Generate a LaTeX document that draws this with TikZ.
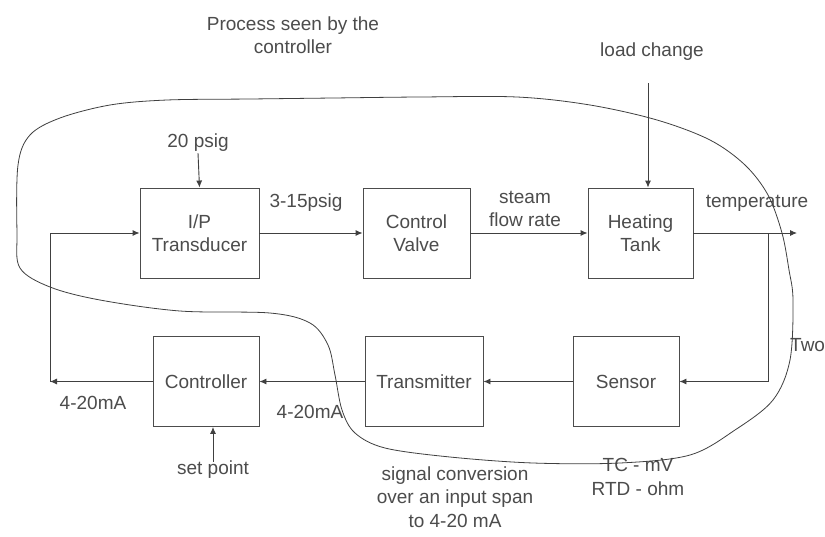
\documentclass[tikz,border=0pt]{standalone}
\usepackage{fontspec}
\setmainfont{Liberation Sans}
\usetikzlibrary{arrows.meta}

\begin{document}
\begin{tikzpicture}[x=1pt, y=-1pt,
        font=\fontsize{19}{23.5}\selectfont,
        blk/.style={draw=black!70, line width=0.9pt, align=center, text=black!70,
          minimum height=90pt, inner sep=2pt},
        lbl/.style={align=center, text=black!70, inner sep=1pt},
        sig/.style={draw=black!75, line width=0.9pt, -{Latex[length=7pt,width=6pt]}},
        wire/.style={draw=black!75, line width=0.9pt}]
      \useasboundingbox (0,0) rectangle (825,536);
      \clip (0,0) rectangle (825,536);
      \fill[white] (0,0) rectangle (825,536);
      % forward path
      \node[blk, minimum width=119pt] (ip)    at (199.5,233) {I/P\\Transducer};
      \node[blk, minimum width=107pt] (valve) at (416.5,233) {Control\\Valve};
      \node[blk, minimum width=105pt] (tank)  at (640.5,233) {Heating\\Tank};
      % feedback path
      \node[blk, minimum width=106pt] (ctrl)  at (206,381.5) {Controller};
      \node[blk, minimum width=118pt] (trans) at (424,381.5) {Transmitter};
      \node[blk, minimum width=106pt] (sens)  at (626,381.5) {Sensor};
      % free ends
      \coordinate (out)  at (797,233);
      \coordinate (tap)  at (768,233);
      \coordinate (fbl)  at (50,381.5);
      \coordinate (load) at (648,83);
      % labels
      \node[lbl] (title) at (293,35)  {Process seen by the\\controller};
      \node[lbl] (air)   at (198,143) {20 psig};
      \node[lbl] (ldc)   at (652,52)  {load change};
      \node[lbl] (psig)  at (306,203) {3-15psig};
      \node[lbl] (steam) at (525,209) {steam\\flow rate};
      \node[lbl] (temp)  at (757,203) {temperature};
      \node[lbl] (maL)   at (93,403)  {4-20mA};
      \node[lbl] (maM)   at (310,412) {4-20mA};
      \node[lbl] (setpt) at (213,470) {set point};
      \node[lbl] (conv)  at (455,497) {signal conversion\\over an input span\\to 4-20 mA};
      \node[lbl] (tcrtd) at (638,477) {TC - mV\\RTD - ohm};
      \node[lbl, anchor=west] (two) at (789,345) {Two};
      % connectors
      \draw[sig] (ip) -- (valve);
      \draw[sig] (valve) -- (tank);
      \draw[sig] (tank) -- (out);
      \draw[sig] (tap) |- (sens.east);
      \draw[sig] (sens) -- (trans);
      \draw[sig] (trans) -- (ctrl);
      \draw[sig] (ctrl) -- (fbl);
      \draw[sig] (fbl) |- (ip.west);
      \draw[sig] (air.south) -- (ip.north);
      \draw[sig] (load) -- (load |- tank.north);
      \draw[sig] ([yshift=-2pt]setpt.north) -- (setpt.north |- ctrl.south);
      % boundary of the process
      \draw[black!75, line width=0.8pt] plot[smooth cycle, tension=0.55] coordinates {
        (333,98) (250,99) (167,100) (110,105) (60,118) (30,135) (18,165)
        (17,233) (20,268) (50,287) (100,300) (180,311) (270,313) (310,323)
        (328,345) (335,375) (342,410) (355,433) (385,448) (450,457) (533,463)
        (620,463) (690,455) (735,430) (773,400) (790,360) (793,300) (789,270)
        (782,233) (768,195) (745,165) (710,140) (657,120) (590,105) (517,97)
        (420,97)};
      \end{tikzpicture}
\end{document}
